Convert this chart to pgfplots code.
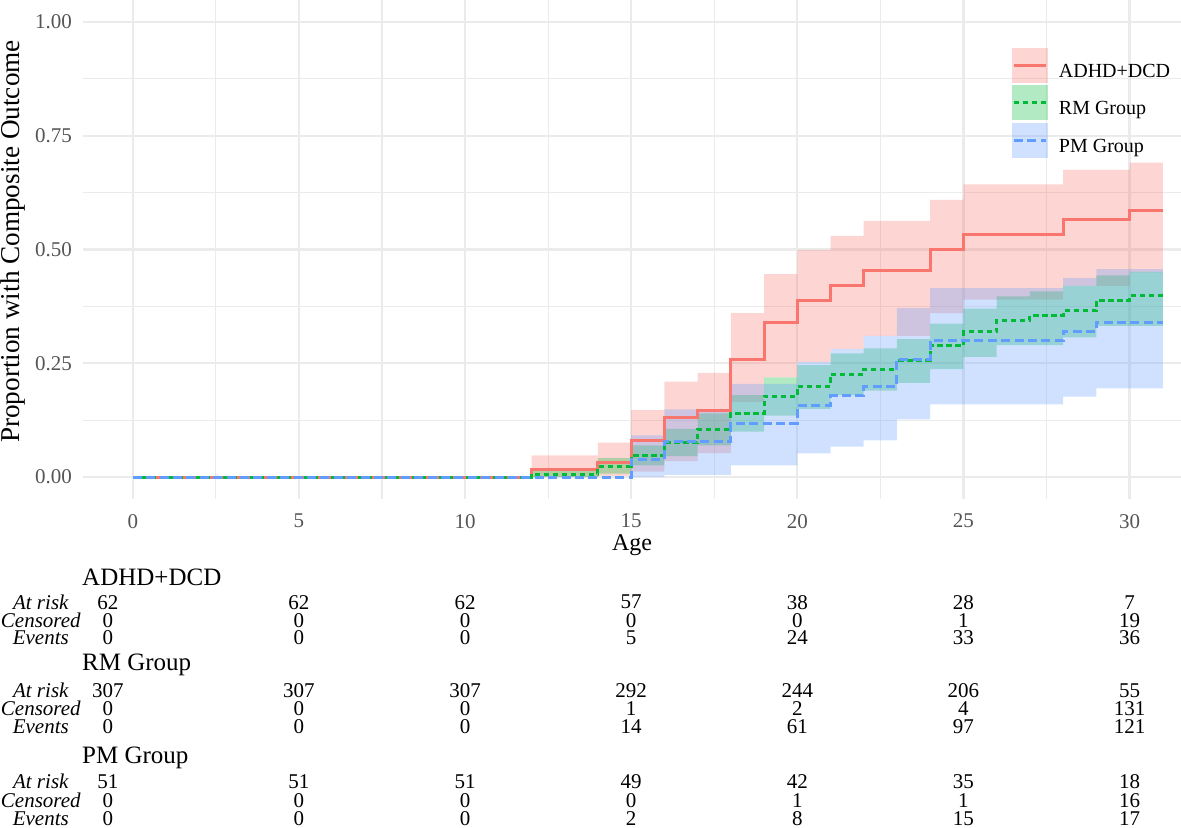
\documentclass[border=0pt]{standalone}
\usepackage{fontspec}
\setmainfont{Liberation Serif}
\usepackage{pgfplots}
\pgfplotsset{compat=1.18}
\usepackage{pgfplotstable}
\usepgfplotslibrary{fillbetween}

\definecolor{cR}{HTML}{F8766D}
\definecolor{cG}{HTML}{00BA38}
\definecolor{cB}{HTML}{619CFF}
\definecolor{gridc}{HTML}{EBEBEB}
\definecolor{tickc}{HTML}{555555}

\pgfplotstableread{
x est lo hi
0 0 0 0
12 0.016 0 0.048
14 0.032 0.003 0.076
15 0.081 0.012 0.147
16 0.130 0.035 0.210
17 0.147 0.053 0.229
18 0.259 0.165 0.360
19 0.340 0.219 0.446
20 0.388 0.253 0.499
21 0.420 0.281 0.530
22 0.453 0.310 0.563
24 0.500 0.360 0.609
25 0.533 0.390 0.643
28 0.566 0.420 0.675
30 0.585 0.450 0.691
31 0.585 0.450 0.691
}\tabR

\pgfplotstableread{
x est lo hi
0 0 0 0
12 0.0065 0 0.016
14 0.024 0.008 0.042
15 0.047 0.026 0.070
16 0.076 0.046 0.106
17 0.105 0.070 0.140
18 0.140 0.100 0.180
19 0.178 0.135 0.219
20 0.200 0.150 0.246
21 0.226 0.180 0.272
22 0.237 0.190 0.283
23 0.256 0.207 0.303
24 0.289 0.237 0.337
25 0.319 0.264 0.370
26 0.345 0.290 0.397
27 0.355 0.290 0.408
28 0.365 0.307 0.420
29 0.388 0.332 0.443
30 0.398 0.332 0.451
31 0.398 0.332 0.451
}\tabG

\pgfplotstableread{
x est lo hi
0 0 0 0
15 0.039 0 0.092
16 0.078 0.005 0.149
18 0.118 0.026 0.205
20 0.158 0.052 0.253
21 0.179 0.067 0.281
22 0.200 0.081 0.310
23 0.259 0.127 0.371
24 0.300 0.160 0.415
28 0.320 0.177 0.437
29 0.340 0.195 0.457
31 0.340 0.195 0.457
}\tabB

% risk table row: y, then seven values
\newcommand\tfont{\fontsize{10.5}{12}\selectfont}
\newcommand\rrow[8]{%
  \node[font=\tfont, inner sep=0pt] at (axis cs:-0.75,#1) {#2};
  \node[font=\tfont, inner sep=0pt] at (axis cs:5,#1) {#3};
  \node[font=\tfont, inner sep=0pt] at (axis cs:10,#1) {#4};
  \node[font=\tfont, inner sep=0pt] at (axis cs:15,#1) {#5};
  \node[font=\tfont, inner sep=0pt] at (axis cs:20,#1) {#6};
  \node[font=\tfont, inner sep=0pt] at (axis cs:25,#1) {#7};
  \node[font=\tfont, inner sep=0pt] at (axis cs:30,#1) {#8};
}
\newcommand\rlab[2]{%
  \node[font=\tfont\itshape, inner sep=0pt] at (axis cs:-2.77,#1) {#2};
}
\newcommand\rhead[2]{%
  \node[font=\fontsize{12.5}{14}\selectfont, anchor=west, inner sep=0pt] at (axis cs:-1.535,#1) {#2};
}

\begin{document}
\begin{tikzpicture}
\begin{axis}[
  at={(0,0)}, anchor=south west,
  scale only axis, width=549pt, height=249.5pt,
  xmin=-1.5, xmax=31.55, ymin=-0.048, ymax=1.048,
  clip=false,
  axis line style={draw=none},
  tick style={draw=none},
  major tick length=0pt, minor tick length=0pt,
  xtick={0,5,10,15,20,25,30},
  ytick={0,0.25,0.5,0.75,1},
  minor xtick={2.5,7.5,12.5,17.5,22.5,27.5},
  minor ytick={0.125,0.375,0.625,0.875},
  grid=both,
  major grid style={gridc, line width=1.1pt},
  minor grid style={gridc, line width=0.55pt},
  /pgf/number format/assume math mode=true,
  yticklabel style={/pgf/number format/.cd, fixed, fixed zerofill, precision=2, /tikz/.cd,
     font=\fontsize{10.5}{12}\selectfont, text=tickc, anchor=east, xshift=-2pt},
  xticklabel style={font=\fontsize{10.5}{12}\selectfont, text=tickc, yshift=-4pt},
  xlabel={Age},
  ylabel={Proportion with Composite Outcome},
  xlabel style={at={(axis description cs:0.5,-0.092)}, anchor=center, font=\fontsize{12}{14}\selectfont},
  ylabel style={at={(axis description cs:-0.0637,0.516)}, anchor=center, rotate=0, font=\fontsize{13.6}{15}\selectfont},
  legend style={at={(0.846,0.904)}, anchor=north west, draw=none, fill=none,
     inner sep=0pt, outer sep=0pt, row sep=1.25pt, column sep=5.5pt,
     nodes={inner sep=0pt}, font=\fontsize{10}{12}\selectfont},
  legend cell align=left,
]
% ribbons
\addplot[name path=rh, const plot, draw=none, forget plot] table[x=x,y=hi]{\tabR};
\addplot[name path=rl, const plot, draw=none, forget plot] table[x=x,y=lo]{\tabR};
\addplot[cR, fill opacity=0.3, draw=none, forget plot] fill between[of=rh and rl];
\addplot[name path=gh, const plot, draw=none, forget plot] table[x=x,y=hi]{\tabG};
\addplot[name path=gl, const plot, draw=none, forget plot] table[x=x,y=lo]{\tabG};
\addplot[cG, fill opacity=0.3, draw=none, forget plot] fill between[of=gh and gl];
\addplot[name path=bh, const plot, draw=none, forget plot] table[x=x,y=hi]{\tabB};
\addplot[name path=bl, const plot, draw=none, forget plot] table[x=x,y=lo]{\tabB};
\addplot[cB, fill opacity=0.3, draw=none, forget plot] fill between[of=bh and bl];
% lines
\addplot[cR, line width=1.5pt, const plot, forget plot] table[x=x,y=est]{\tabR};
\addplot[cG, line width=1.5pt, const plot, dash pattern=on 2.7pt off 1.8pt, forget plot] table[x=x,y=est]{\tabG};
\addplot[cB, line width=1.5pt, const plot, dash pattern=on 4.5pt off 2.2pt, forget plot] table[x=x,y=est]{\tabB};
% legend
\addlegendimage{legend image code/.code={
  \path[fill=cR, fill opacity=0.3, draw=none] (0pt,-5.5pt) rectangle (18pt,12pt);
  \draw[cR, line width=1.5pt, solid] (1pt,3.25pt) -- (17pt,3.25pt);}}
\addlegendentry{ADHD+DCD}
\addlegendimage{legend image code/.code={
  \path[fill=cG, fill opacity=0.3, draw=none] (0pt,-5.5pt) rectangle (18pt,12pt);
  \draw[cG, line width=1.5pt, dash pattern=on 2.7pt off 1.8pt] (1pt,3.25pt) -- (17pt,3.25pt);}}
\addlegendentry{RM Group}
\addlegendimage{legend image code/.code={
  \path[fill=cB, fill opacity=0.3, draw=none] (0pt,-5.5pt) rectangle (18pt,12pt);
  \draw[cB, line width=1.5pt, dash pattern=on 4.5pt off 2.2pt] (1pt,3.25pt) -- (17pt,3.25pt);}}
\addlegendentry{PM Group}
% risk table
\rhead{-0.2198}{ADHD+DCD}
\rlab{-0.2747}{At risk}\rlab{-0.3143}{Censored}\rlab{-0.3516}{Events}
\rrow{-0.2747}{62}{62}{62}{57}{38}{28}{7}
\rrow{-0.3143}{0}{0}{0}{0}{0}{1}{19}
\rrow{-0.3516}{0}{0}{0}{5}{24}{33}{36}
\rhead{-0.4132}{RM Group}
\rlab{-0.4681}{At risk}\rlab{-0.5077}{Censored}\rlab{-0.5473}{Events}
\rrow{-0.4681}{307}{307}{307}{292}{244}{206}{55}
\rrow{-0.5077}{0}{0}{0}{1}{2}{4}{131}
\rrow{-0.5473}{0}{0}{0}{14}{61}{97}{121}
\rhead{-0.6176}{PM Group}
\rlab{-0.6681}{At risk}\rlab{-0.7099}{Censored}\rlab{-0.7495}{Events}
\rrow{-0.6681}{51}{51}{51}{49}{42}{35}{18}
\rrow{-0.7099}{0}{0}{0}{0}{1}{1}{16}
\rrow{-0.7495}{0}{0}{0}{2}{8}{15}{17}
\end{axis}
\pgfresetboundingbox
\useasboundingbox (-41.5pt,-164.5pt) rectangle (549pt,249.5pt);
\end{tikzpicture}
\end{document}
